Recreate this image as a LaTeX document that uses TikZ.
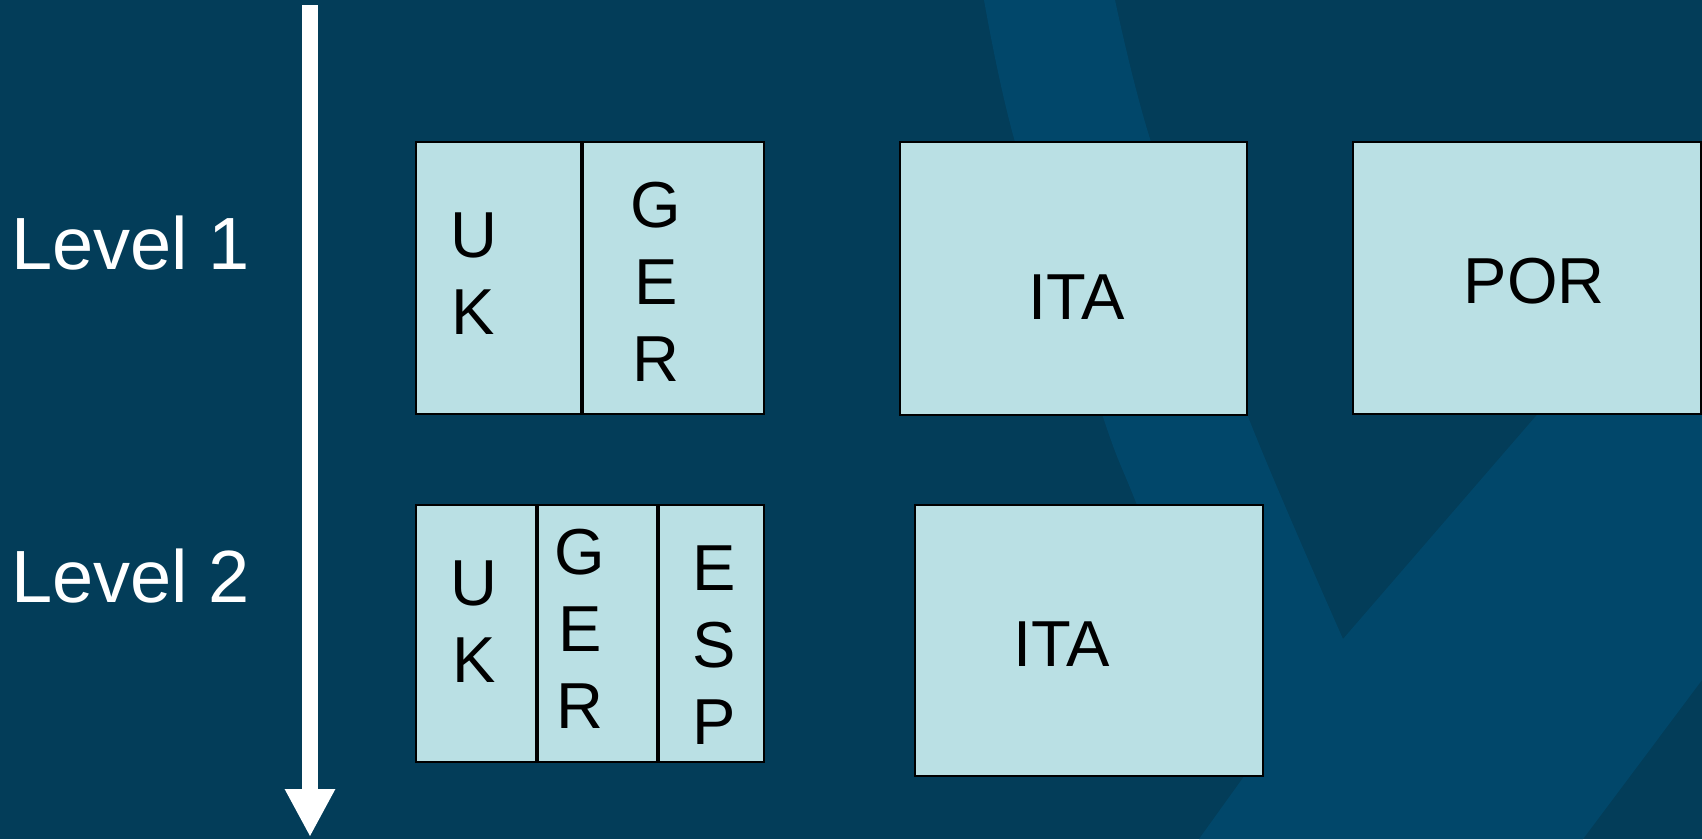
\documentclass[tikz,border=0pt]{standalone}
\usepackage{fontspec}
\setmainfont{Liberation Sans}
\usetikzlibrary{arrows.meta}
\definecolor{bgdark}{HTML}{033D59}
\definecolor{bglight}{HTML}{01476A}
\definecolor{boxfill}{HTML}{BAE0E4}
\begin{document}
\begin{tikzpicture}[x=1pt,y=-1pt,
  cell/.style={draw=black, line width=2pt, fill=boxfill, rectangle, inner sep=0pt},
  lvl/.style={text=white, font=\fontsize{74}{89}\selectfont, inner sep=0pt, anchor=base west},
  lbl/.style={text=black, font=\fontsize{65}{77}\selectfont, inner sep=0pt, align=center},
  flow/.style={white, line width=16.7pt, -{Triangle[width=47pt,length=48pt]}}
]
\useasboundingbox (0,0) rectangle (1702,839);
% background
\fill[bgdark] (0,0) rectangle (1702,839);
\fill[bglight] plot[smooth] coordinates {(984,0) (1015,142) (1103,417) (1137,505) (1245,775)}
  -- (1199,839) -- (1583,839) -- (1702,680) -- (1702,224)
  -- plot[smooth] coordinates {(1343,639) (1247,414) (1151,142) (1115,0)} -- cycle;

% arrow
\coordinate (atop) at (310,5.4);
\coordinate (abot) at (310,837);
\draw[flow] (atop) -- (abot);

% level labels
\node[lvl] (lev1) at (11.3,269.3) {Level 1};
\node[lvl] (lev2) at (11.3,602.7) {Level 2};

% level 1 boxes
\node[cell, minimum width=165pt, minimum height=271.7pt] (uk1) at (498.5,278.15) {};
\node[cell, minimum width=181pt, minimum height=271.7pt] (ger1) at (673.5,278.15) {};
\node[cell, minimum width=347.3pt, minimum height=273pt] (ita1) at (1073.65,278.2) {};
\node[cell, minimum width=347.5pt, minimum height=271.8pt] (por1) at (1526.75,277.7) {};

% level 2 boxes
\node[cell, minimum width=120.2pt, minimum height=256.4pt] (uk2) at (476.1,633.5) {};
\node[cell, minimum width=119.1pt, minimum height=256.4pt] (ger2) at (597.75,633.5) {};
\node[cell, minimum width=104.7pt, minimum height=256.4pt] (esp2) at (711.65,633.5) {};
\node[cell, minimum width=348pt, minimum height=271.3pt] (ita2) at (1089,640.15) {};

% texts
\node[lbl] (tuk1) at (473.5,273.7) {U\\K};
\node[lbl] (tger1) at (656,282) {G\\E\\R};
\node[lbl] (tita1) at (1077,296.7) {ITA};
\node[lbl] (tpor1) at (1534.3,281) {POR};
\node[lbl] (tuk2) at (474,622) {U\\K};
\node[lbl] (tger2) at (580,629) {G\\E\\R};
\node[lbl] (tesp2) at (714,644.7) {E\\S\\P};
\node[lbl] (tita2) at (1061.7,643.7) {ITA};
\end{tikzpicture}
\end{document}
